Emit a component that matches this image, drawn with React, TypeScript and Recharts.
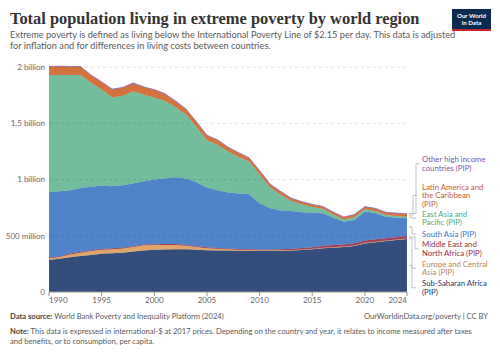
import React from 'react'
import { AreaChart, Area, XAxis, YAxis, ReferenceLine } from 'recharts'

// values in millions of people
const years = [
  1990, 1991, 1992, 1993, 1994, 1995, 1996, 1997, 1998, 1999, 2000, 2001, 2002, 2003, 2004, 2005, 2006,
  2007, 2008, 2009, 2010, 2011, 2012, 2013, 2014, 2015, 2016, 2017, 2018, 2019, 2020, 2021, 2022, 2023, 2024,
]
const subSaharanAfrica = [
  285, 295, 310, 320, 330, 340, 345, 350, 360, 370, 375, 378, 380, 380, 376, 372, 370, 368, 366, 365, 364,
  364, 365, 368, 374, 380, 388, 394, 400, 410, 432, 443, 453, 463, 472,
]
const europeCentralAsia = [
  12, 16, 24, 30, 34, 35, 35, 36, 40, 45, 42, 40, 38, 32, 25, 18, 14, 12, 10, 9, 8, 7, 6, 6, 5, 5, 5, 5, 4,
  4, 5, 4, 4, 4, 4,
]
const middleEastNorthAfrica = [
  8, 8, 8, 8, 8, 8, 8, 8, 8, 8, 8, 8, 8, 7, 7, 7, 7, 7, 7, 7, 7, 8, 9, 10, 12, 14, 16, 18, 19, 20, 21, 22,
  22, 23, 23,
]
const southAsia = [
  583, 576, 563, 567, 563, 562, 552, 556, 557, 562, 575, 584, 594, 591, 567, 533, 514, 498, 492, 489, 411,
  366, 345, 336, 319, 306, 291, 243, 202, 206, 257, 231, 191, 170, 156,
]
const eastAsiaPacific = [
  1042, 1035, 1025, 1005, 925, 855, 790, 795, 820, 770, 730, 690, 625, 570, 495, 420, 405, 365, 325, 290,
  255, 185, 140, 90, 70, 50, 40, 30, 20, 25, 20, 20, 15, 15, 15,
]
const latinAmericaCaribbean = [
  71, 76, 71, 71, 66, 66, 71, 71, 71, 66, 66, 61, 51, 46, 41, 41, 41, 36, 36, 31, 31, 26, 26, 21, 21, 21,
  18, 18, 19, 21, 21, 21, 21, 24, 23,
]
const otherHighIncome = [
  4, 4, 4, 4, 4, 4, 4, 4, 4, 4, 4, 4, 4, 4, 4, 4, 4, 4, 4, 4, 4, 4, 4, 4, 4, 4, 4, 4, 4, 4, 4, 4, 4, 4, 4,
]

const xTicks = [1990, 1995, 2000, 2005, 2010, 2015, 2020, 2024]
const yTicks = [0, 500, 1000, 1500, 2000]

const series = [
  { key: 'ssa', name: ['Sub-Saharan Africa', '(PIP)'], values: subSaharanAfrica, fill: '#334e7c', text: '#23396a' },
  { key: 'eca', name: ['Europe and Central', 'Asia (PIP)'], values: europeCentralAsia, fill: '#dfa56b', text: '#b5885a' },
  { key: 'mena', name: ['Middle East and', 'North Africa (PIP)'], values: middleEastNorthAfrica, fill: '#a0415a', text: '#93304a' },
  { key: 'sa', name: ['South Asia (PIP)'], values: southAsia, fill: '#5083c8', text: '#3b72c2' },
  { key: 'eap', name: ['East Asia and', 'Pacific (PIP)'], values: eastAsiaPacific, fill: '#73bd9c', text: '#4daa82' },
  { key: 'lac', name: ['Latin America and', 'the Caribbean', '(PIP)'], values: latinAmericaCaribbean, fill: '#d3723c', text: '#c55e2a' },
  { key: 'other', name: ['Other high income', 'countries (PIP)'], values: otherHighIncome, fill: '#8963b2', text: '#7a57a8' },
]

const data = years.map((year, i) => {
  const row: Record<string, number> = { year }
  series.forEach((s) => {
    row[s.key] = s.values[i]
  })
  return row
})

const PLOT_TOP = 66
const PLOT_BOTTOM = 292
const PLOT_RIGHT = 407
const LINE_GAP = 8.5
const yPx = (v: number) => PLOT_BOTTOM - (v / 2000) * (PLOT_BOTTOM - PLOT_TOP)

// label block layout on the right (first line y, connector x)
const labelLayout: Record<string, { y: number; vx: number }> = {
  other: { y: 159.5, vx: 416 },
  lac: { y: 187, vx: 413 },
  eap: { y: 214, vx: 412 },
  sa: { y: 234, vx: 412 },
  mena: { y: 244.5, vx: 415 },
  eca: { y: 264, vx: 412 },
  ssa: { y: 283.5, vx: 412 },
}

const formatY = (v: number) => {
  if (v === 0) return '0'
  if (v >= 1000) return `${v / 1000} billion`
  return `${v} million`
}

const YearTick = (props: any) => {
  const { x, y, payload } = props
  const anchor = payload.value === 1990 ? 'start' : payload.value === 2024 ? 'end' : 'middle'
  return (
    <text x={x} y={y} dy={5} textAnchor={anchor} fontSize={8} fill="#666" fontFamily="Lato, sans-serif">
      {payload.value}
    </text>
  )
}

const ValueTick = (props: any) => {
  const { x, y, payload } = props
  return (
    <text x={x} y={y} dy="0.35em" textAnchor="end" fontSize={8} fill="#666" fontFamily="Lato, sans-serif">
      {formatY(payload.value)}
    </text>
  )
}

function RegionLabels() {
  const last = years.length - 1
  let cum = 0
  const mids: Record<string, number> = {}
  series.forEach((s) => {
    const v = s.values[last]
    mids[s.key] = yPx(cum + v / 2)
    cum += v
  })
  return (
    <svg width={500} height={353} style={{ position: 'absolute', left: 0, top: 0, pointerEvents: 'none' }}>
      {series.map((s) => {
        const l = labelLayout[s.key]
        const blockMid = l.y + ((s.name.length - 1) * LINE_GAP) / 2
        return (
          <g key={s.key}>
            <polyline
              points={`${PLOT_RIGHT + 2},${mids[s.key]} ${l.vx},${mids[s.key]} ${l.vx},${blockMid} ${l.vx + 4},${blockMid}`}
              fill="none"
              stroke="#aaa"
              strokeWidth={0.7}
            />
            {s.name.map((line, i) => (
              <text
                key={i}
                x={422}
                y={l.y + i * LINE_GAP}
                dy="0.35em"
                fontSize={7.8}
                fill={s.text}
                fontFamily="Lato, sans-serif"
              >
                {line}
              </text>
            ))}
          </g>
        )
      })}
    </svg>
  )
}

export default function App() {
  return (
    <div style={{ position: 'relative', width: 500, height: 353, background: '#fff', fontFamily: 'Lato, sans-serif', overflow: 'hidden' }}>
      <style>{`body{margin:0}`}</style>
      <div
        style={{
          position: 'absolute',
          left: 10,
          top: 9,
          fontFamily: '"Liberation Serif", serif',
          fontWeight: 700,
          fontSize: 16.4,
          lineHeight: '20px',
          color: '#333',
          whiteSpace: 'nowrap',
        }}
      >
        Total population living in extreme poverty by world region
      </div>
      <div
        style={{
          position: 'absolute',
          left: 10,
          top: 30,
          fontSize: 9.2,
          lineHeight: '10.8px',
          color: '#5b5b5b',
          whiteSpace: 'nowrap',
        }}
      >
        Extreme poverty is defined as living below the International Poverty Line of $2.15 per day. This data is adjusted
        <br />
        for inflation and for differences in living costs between countries.
      </div>
      <div
        style={{
          position: 'absolute',
          left: 452,
          top: 9,
          width: 39,
          height: 22,
          background: '#0b2a50',
          color: '#fff',
          fontSize: 6.2,
          fontWeight: 700,
          lineHeight: '7px',
          textAlign: 'center',
          boxSizing: 'border-box',
          paddingTop: 3,
          borderBottom: '2px solid #c9252b',
        }}
      >
        Our World
        <br />
        in Data
      </div>

      <div style={{ position: 'absolute', left: 0, top: 0 }}>
        <AreaChart
          width={500}
          height={353}
          data={data}
          margin={{ top: PLOT_TOP, right: 500 - PLOT_RIGHT, bottom: 41, left: 0 }}
        >
          <XAxis
            dataKey="year"
            type="number"
            domain={[1990, 2024]}
            ticks={xTicks}
            tick={<YearTick />}
            tickSize={4}
            tickMargin={2}
            height={20}
            stroke="#999"
            interval={0}
          />
          <YAxis
            type="number"
            domain={[0, 2000]}
            ticks={yTicks}
            width={49}
            axisLine={false}
            tickLine={false}
            tickSize={0}
            tickMargin={4}
            interval={0}
            tick={<ValueTick />}
          />
          {series.map((s) => (
            <Area
              key={s.key}
              type="linear"
              dataKey={s.key}
              stackId="1"
              stroke={s.fill}
              strokeWidth={0.5}
              fill={s.fill}
              fillOpacity={1}
              isAnimationActive={false}
            />
          ))}
          {yTicks
            .filter((t) => t > 0)
            .map((t) => (
              <ReferenceLine key={t} y={t} stroke="#000" strokeOpacity={0.14} strokeDasharray="3 3" strokeWidth={0.8} />
            ))}
        </AreaChart>
      </div>

      <RegionLabels />

      <div style={{ position: 'absolute', left: 10, top: 312, fontSize: 7.6, lineHeight: '9px', color: '#5b5b5b', whiteSpace: 'nowrap' }}>
        <b style={{ color: '#444' }}>Data source:</b> World Bank Poverty and Inequality Platform (2024)
      </div>
      <div
        style={{ position: 'absolute', right: 12, top: 312, fontSize: 7.6, lineHeight: '9px', color: '#5b5b5b', whiteSpace: 'nowrap' }}
      >
        OurWorldinData.org/poverty | CC BY
      </div>
      <div style={{ position: 'absolute', left: 10, top: 327, fontSize: 7.6, lineHeight: '9.5px', color: '#5b5b5b', whiteSpace: 'nowrap' }}>
        <b style={{ color: '#444' }}>Note:</b> This data is expressed in international-$ at 2017 prices. Depending on the country and year, it relates to income measured after taxes
        <br />
        and benefits, or to consumption, per capita.
      </div>
    </div>
  )
}
